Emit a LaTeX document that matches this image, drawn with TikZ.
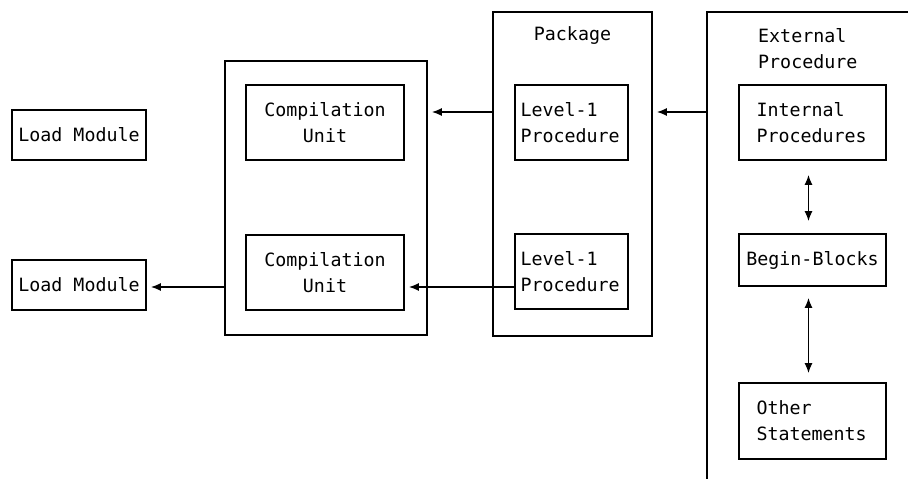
\documentclass[tikz,border=0pt]{standalone}
\usepackage{fontspec}
\setmonofont{DejaVu Sans Mono}
\usetikzlibrary{arrows.meta}
\begin{document}
\begin{tikzpicture}[x=1pt,y=-1pt,
  font=\ttfamily\fontsize{18.3}{26}\selectfont,
  box/.style={draw, inner sep=0pt, line width=1.7pt},
  arr/.style={-{Latex[length=10pt,width=8pt]}, line width=1.5pt, shorten >=4pt},
  dbl/.style={{Latex[length=10pt,width=8pt]}-{Latex[length=10pt,width=8pt]}, line width=1.5pt}]
\useasboundingbox (0,0) rectangle (908,479);
% load modules
\node[box, minimum width=134pt, minimum height=50pt] (lm1) at (79,135) {Load Module};
\node[box, minimum width=134pt, minimum height=50pt] (lm2) at (79,285) {Load Module};
% compilation container
\node[box, minimum width=202pt, minimum height=274pt] (cbox) at (326,198) {};
\node[box, minimum width=158pt, minimum height=75pt, align=center] (cu1) at (325,122.5) {Compilation\\Unit};
\node[box, minimum width=158pt, minimum height=75pt, align=center] (cu2) at (325,272.5) {Compilation\\Unit};
% package
\node[box, minimum width=159pt, minimum height=324pt] (pkg) at (572.5,174) {};
\node[inner sep=0pt] (pkglabel) at (572.5,36) {Package};
\node[box, minimum width=113pt, minimum height=75pt, text width=102pt, align=left] (lp1) at (571.5,122.5) {Level-1\\Procedure};
\node[box, minimum width=113pt, minimum height=75pt, text width=102pt, align=left] (lp2) at (571.5,271.5) {Level-1\\Procedure};
% external procedure
\coordinate (exttl) at (707,12);
\coordinate (exttr) at (908,12);
\coordinate (extbl) at (707,479);
\draw[line width=1.7pt] (exttr) -- (exttl) -- (extbl);
\node[inner sep=0pt, anchor=west, align=left] (extlabel) at (758,49) {External\\Procedure};
\node[box, minimum width=147pt, minimum height=75pt, text width=112pt, align=left] (ip) at (812.5,122.5) {Internal\\Procedures};
\node[box, minimum width=147pt, minimum height=52pt, align=center] (bb) at (812.5,260) {Begin-Blocks};
\node[box, minimum width=147pt, minimum height=76pt, text width=112pt, align=left] (os) at (812.5,421) {Other\\Statements};
% connectors
\coordinate (ya) at (0,112);
\coordinate (yb) at (0,287);
\draw[arr] (exttl |- ya) -- (pkg.east |- ya);
\draw[arr] (pkg.west |- ya) -- (cbox.east |- ya);
\draw[arr] (lp2.west |- yb) -- (cu2.east |- yb);
\draw[arr] (cbox.west |- yb) -- (lm2.east |- yb);
\draw[dbl, shorten <=14pt, shorten >=12pt] ([xshift=-4pt]ip.south) -- ([xshift=-4pt]bb.north);
\draw[dbl, shorten <=11pt, shorten >=9pt] ([xshift=-4pt]bb.south) -- ([xshift=-4pt]os.north);
\end{tikzpicture}
\end{document}
